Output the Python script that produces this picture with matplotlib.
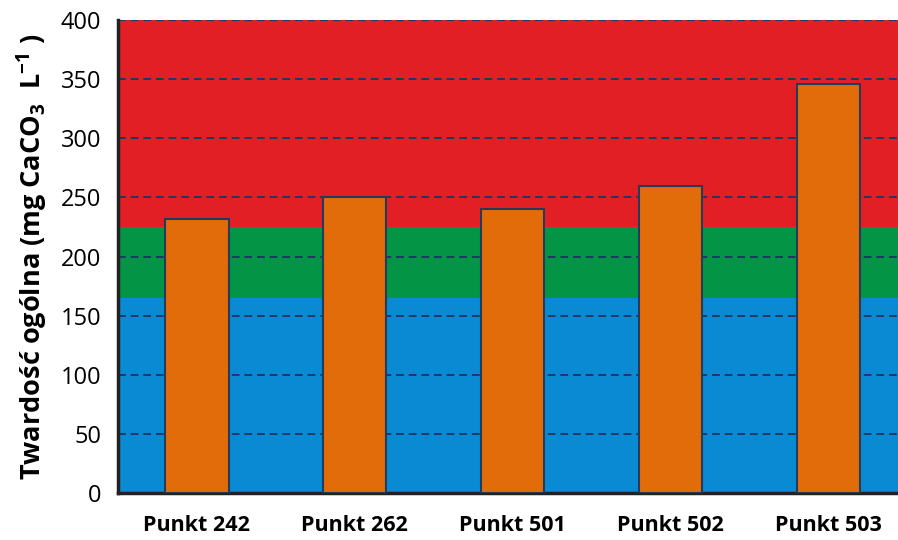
import numpy as np
import matplotlib
matplotlib.use("Agg")
import matplotlib.pyplot as plt

plt.rcParams['font.family'] = ['Open Sans', 'DejaVu Sans']
plt.rcParams['mathtext.fontset'] = 'custom'
plt.rcParams['mathtext.rm'] = 'Open Sans:bold'
plt.rcParams['mathtext.bf'] = 'Open Sans:bold'
plt.rcParams['mathtext.default'] = 'regular'

# data
categories = ['Punkt 242', 'Punkt 262', 'Punkt 501', 'Punkt 502', 'Punkt 503']
hardness = [232, 250, 240, 260, 346]
band_edges = [0, 165, 225, 400]
band_colors = ['#0a8ad2', '#039545', '#e31f26']

fig = plt.figure(figsize=(8.98, 5.4), dpi=100)
ax = fig.add_axes([0.1314, 0.087, 0.879, 0.876])

for lo, hi, c in zip(band_edges[:-1], band_edges[1:], band_colors):
    ax.axhspan(lo, hi, color=c, zorder=0.2, lw=0)

x = np.arange(len(categories))
ax.bar(x, hardness, width=0.4, color='#e36c0a', edgecolor='#243b5a', linewidth=1.5, zorder=3)

ax.set_xlim(-0.5, len(categories) - 0.5)
ax.set_ylim(0, 400)
ax.set_yticks(np.arange(0, 401, 50))
ax.set_axisbelow(True)
ax.yaxis.grid(True, linestyle=(0, (4, 2.5)), color='#1f3864', linewidth=1.4)
ax.xaxis.grid(False)

ax.set_xticks(x)
ax.set_xticklabels(categories, fontsize=15.5, fontweight='bold')
ax.tick_params(axis='x', length=0, pad=16)
ax.tick_params(axis='y', length=0, labelsize=17, pad=12)

for s in ['top', 'right']:
    ax.spines[s].set_visible(False)
for s in ['left', 'bottom']:
    ax.spines[s].set_linewidth(2.5)
    ax.spines[s].set_color('#222222')

ax.set_ylabel(r'Twardość ogólna (mg CaCO$_3$  L$^{-1}$ )', fontsize=19.5, fontweight='bold', labelpad=8)

fig.savefig('out.png', dpi=100)
